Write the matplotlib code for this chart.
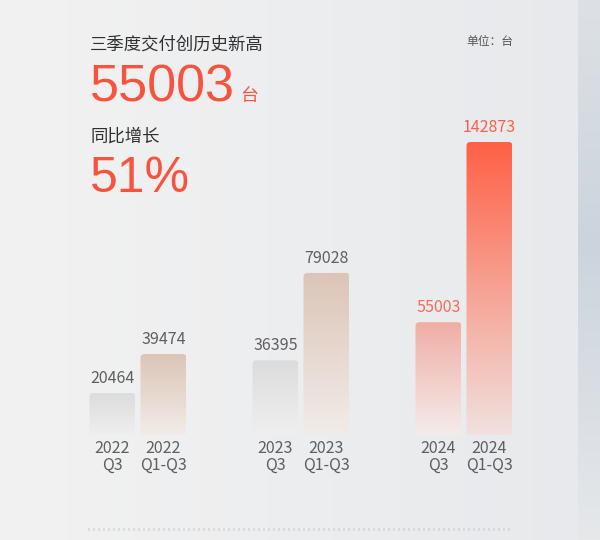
import numpy as np
import matplotlib
matplotlib.use("Agg")
import matplotlib.pyplot as plt
from matplotlib.patches import FancyBboxPatch
from matplotlib.colors import LinearSegmentedColormap, to_rgb

plt.rcParams["font.family"] = ["Noto Sans CJK SC", "DejaVu Sans"]

# ── data ─────────────────────────────────────
years = ["2022", "2023", "2024"]
periods = ["Q3", "Q1-Q3"]
q3_values = [20464, 36395, 55003]
ytd_values = [39474, 79028, 142873]

headline_title = "三季度交付创历史新高"
headline_value = "55003"
headline_unit = "台"
growth_title = "同比增长"
growth_value = "51%"
unit_note = "单位：台"

# ── style ────────────────────────────────────
RED = "#F7543F"
DARK = "#2f2f2f"
GRAY = "#5f5f5f"
BAR_GRADIENTS = {
    ("2022", "Q3"): ["#dcdcdc", "#efefef"],
    ("2023", "Q3"): ["#dcdcdc", "#efefef"],
    ("2022", "Q1-Q3"): ["#dcc5b7", "#f1ece9"],
    ("2023", "Q1-Q3"): ["#dcc5b7", "#f1ece9"],
    ("2024", "Q3"): ["#f0aea4", "#f4ecec"],
    ("2024", "Q1-Q3"): ["#ff6046", "#f6a293", "#f1e1df"],
}
LABEL_COLORS = {("2024", "Q3"): "#f96a55", ("2024", "Q1-Q3"): "#ff5f48"}
BIG_FONT = ["Liberation Sans", "DejaVu Sans"]

W, H = 600, 540
fig = plt.figure(figsize=(W / 100, H / 100), dpi=100)

# ── background ───────────────────────────────
bg_ax = fig.add_axes([0, 0, 1, 1])
bg_ax.set_axis_off()
xs = np.linspace(0, 1, W)
ys = np.linspace(0, 1, H)
left = np.array(to_rgb("#f2f2f2"))
right = np.array(to_rgb("#e7e9ec"))
bg = left[None, None, :] * (1 - xs[None, :, None]) + right[None, None, :] * xs[None, :, None]
bg = np.repeat(bg, H, axis=0)
strip_top = np.array(to_rgb("#dde1e5"))
strip_mid = np.array(to_rgb("#cbd4dd"))
strip_bot = np.array(to_rgb("#e6e8ea"))
t = ys[:, None]
strip = np.where(t < 0.45,
                 strip_top * (1 - t / 0.45) + strip_mid * (t / 0.45),
                 strip_mid * (1 - (t - 0.45) / 0.55) + strip_bot * ((t - 0.45) / 0.55))
bg[:, 578:, :] = strip[:, None, :]
bg_ax.imshow(bg, extent=[0, W, H, 0], aspect="auto", zorder=0, interpolation="nearest")
bg_ax.set_xlim(0, W)
bg_ax.set_ylim(H, 0)

# ── headline texts (pixel coords on bg_ax) ───
bg_ax.text(90, 45, headline_title, fontsize=12.5, color=DARK, va="center", ha="left")
bg_ax.text(90, 101, headline_value, fontsize=37.5, color=RED, va="baseline", ha="left",
           family=BIG_FONT)
bg_ax.text(240, 101, headline_unit, fontsize=13, color=RED, va="baseline", ha="left")
bg_ax.text(90, 137, growth_title, fontsize=12.5, color=DARK, va="center", ha="left")
bg_ax.text(90, 192, growth_value, fontsize=36, color=RED, va="baseline", ha="left",
           family=BIG_FONT)
bg_ax.text(513, 42, unit_note, fontsize=8.5, color="#555555", va="center", ha="right")

# dotted divider
bg_ax.plot([88, 511], [529, 529], color="#c4c4c4", lw=2.0,
           linestyle=(0, (0.35, 1.45)), solid_capstyle="butt", dash_capstyle="butt")

# ── bar chart ────────────────────────────────
# baseline at y=435 px, 142873 reaches y=142 px
px_per_unit = (435 - 142) / max(ytd_values)
ymax = 435 / px_per_unit  # axes top at figure top
ax = fig.add_axes([56.5 / W, (H - 435) / H, 489 / W, 435 / H])
ax.set_axis_off()
ax.patch.set_visible(False)

group_px = 163.0
bar_w = 46 / group_px
offset = 25.5 / group_px
x = np.arange(len(years))

bars_q3 = ax.bar(x - offset, q3_values, width=bar_w, alpha=0)
bars_ytd = ax.bar(x + offset, ytd_values, width=bar_w, alpha=0)

aspect = (1 / px_per_unit) * group_px
radius = 4 / group_px

for period, bars, vals in [("Q3", bars_q3, q3_values), ("Q1-Q3", bars_ytd, ytd_values)]:
    for yr, rect, v in zip(years, bars, vals):
        bx, bw, bh = rect.get_x(), rect.get_width(), rect.get_height()
        patch = FancyBboxPatch((bx, 0), bw, bh,
                               boxstyle=f"round,pad=0,rounding_size={radius}",
                               mutation_aspect=aspect, fc="none", ec="none")
        ax.add_patch(patch)
        cmap = LinearSegmentedColormap.from_list("g", BAR_GRADIENTS[(yr, period)])
        grad = np.linspace(0, 1, 256)[:, None]
        im = ax.imshow(grad, cmap=cmap, extent=[bx, bx + bw, 0, bh],
                       aspect="auto", origin="upper", zorder=2)
        im.set_clip_path(patch)
        ax.annotate(f"{v}", (bx + bw / 2, bh), xytext=(0, 4.5),
                    textcoords="offset points", ha="center", va="bottom",
                    fontsize=11.5, color=LABEL_COLORS.get((yr, period), GRAY), zorder=3)
        ax.annotate(f"{yr}\n{period}", (bx + bw / 2, 0), xytext=(0, -3.5),
                    textcoords="offset points", ha="center", va="top",
                    fontsize=11.5, color=GRAY, linespacing=1.0, zorder=3)

ax.set_xlim(-0.5, 2.5)
ax.set_ylim(0, ymax)

fig.savefig("out.png", dpi=100)
